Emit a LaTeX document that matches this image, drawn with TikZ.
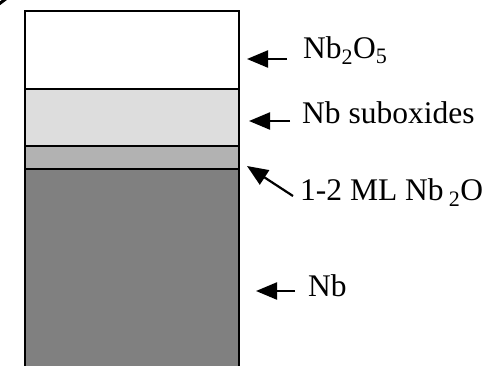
\documentclass[tikz,border=0pt]{standalone}
\usepackage{fontspec}
\setmainfont{Liberation Serif}
\usetikzlibrary{arrows.meta}
\definecolor{lightlayer}{gray}{0.867}
\definecolor{midlayer}{gray}{0.70}
\definecolor{darklayer}{gray}{0.502}
\tikzset{
  layer/.style={draw=black, line width=1.6pt},
  pointer/.style={line width=2.2pt, -{Triangle[length=21pt,width=17pt]}},
  lbl/.style={anchor=base west, inner sep=0pt, font=\fontsize{31.5}{33}\selectfont}
}
\begin{document}
\begin{tikzpicture}[x=1pt,y=-1pt]
\useasboundingbox (0,0) rectangle (488,365);
% clipped mark at top-left corner
\begin{scope}
\clip (0,0) rectangle (8,8);
\draw[line width=3pt] (7,-2) -- (-1,4);
\end{scope}
% layers
\fill[darklayer] (25,169) rectangle (239,366);
\fill[midlayer] (25,146) rectangle (239,169);
\fill[lightlayer] (25,89) rectangle (239,146);
\fill[white] (25,11) rectangle (239,89);
\draw[layer] (25,366) -- (25,11) -- (239,11) -- (239,366);
\draw[layer] (25,89) -- (239,89);
\draw[layer] (25,146) -- (239,146);
\draw[layer] (25,169) -- (239,169);
% labels
\node[lbl] (t1) at (303,58) {Nb\textsubscript{2}O\textsubscript{5}};
\node[lbl] (t2) at (302,123) {Nb suboxides};
\node[lbl] (t3) at (300,200) {1-2 ML Nb\,\textsubscript{2}O};
\node[lbl] (t4) at (308,296) {Nb};
\coordinate (a1) at (287,59); \coordinate (b1) at (247,59);
\coordinate (a2) at (290,121); \coordinate (b2) at (249,121);
\coordinate (a3) at (293,196); \coordinate (b3) at (247,166);
\coordinate (a4) at (295,291); \coordinate (b4) at (256,291);
\draw[pointer] (a1) -- (b1);
\draw[pointer] (a2) -- (b2);
\draw[pointer] (a3) -- (b3);
\draw[pointer] (a4) -- (b4);
\end{tikzpicture}
\end{document}
